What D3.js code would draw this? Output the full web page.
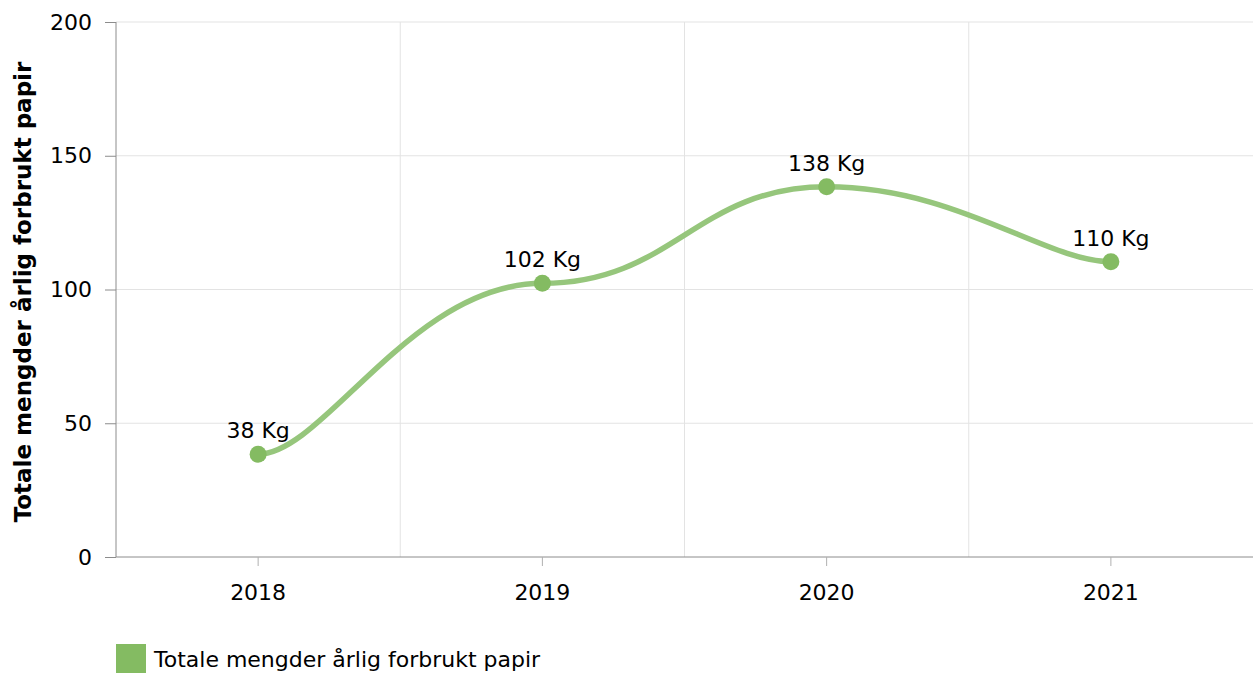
<!DOCTYPE html>
<html><head><meta charset="utf-8">
<script src="https://cdn.jsdelivr.net/npm/d3@7"></script>
<style>body{margin:0;background:#fff;font-family:"DejaVu Sans",Verdana,sans-serif;}</style>
</head><body><svg id="c" width="1255" height="673"></svg>
<script>
const categories = ["2018","2019","2020","2021"];
const values = [38.4, 102.3, 138.4, 110.4];
const valueLabels = ["38 Kg","102 Kg","138 Kg","110 Kg"];
const yTicks = [0,50,100,150,200];
const seriesName = "Totale mengder årlig forbrukt papir";
const yTitle = "Totale mengder årlig forbrukt papir";

const svg = d3.select("#c");
const m = {l:116, r:1253, t:22, b:557};
const x = d3.scaleBand().domain(categories).range([m.l, m.r]);
const y = d3.scaleLinear().domain([0,200]).range([m.b, m.t]);
const font = "DejaVu Sans, Verdana, sans-serif";
const FS = 22;

// horizontal grid
svg.append("g").selectAll("line").data(yTicks.filter(d=>d>0)).join("line")
  .attr("x1", m.l).attr("x2", m.r).attr("y1", d=>y(d)).attr("y2", d=>y(d))
  .attr("stroke", "#e3e3e3").attr("stroke-width", 1);
// vertical grid at band boundaries
svg.append("g").selectAll("line").data(categories.slice(1)).join("line")
  .attr("x1", d=>x(d)).attr("x2", d=>x(d)).attr("y1", m.t).attr("y2", m.b)
  .attr("stroke", "#e3e3e3").attr("stroke-width", 1);

// y axis
const ya = svg.append("g").attr("transform", `translate(${m.l},0)`)
  .call(d3.axisLeft(y).tickValues(yTicks).tickSize(11).tickPadding(13));
ya.select(".domain").attr("stroke", "#8c8c8c").attr("d", `M0,${m.t}V${m.b}`);
ya.selectAll(".tick line").attr("stroke", "#8c8c8c");
ya.selectAll("text").attr("font-size", FS).attr("font-family", font).attr("fill", "#000");

// x axis
const xa = svg.append("g").attr("transform", `translate(0,${m.b})`)
  .call(d3.axisBottom(x).tickSize(9).tickPadding(18));
xa.select(".domain").attr("stroke", "#8c8c8c").attr("d", `M${m.l},0H${m.r}`);
xa.selectAll(".tick line").attr("stroke", "#b0b0b0");
xa.selectAll("text").attr("font-size", FS).attr("font-family", font).attr("fill", "#000");

// y title
svg.append("text").attr("transform", `translate(31,292) rotate(-90)`)
  .attr("text-anchor","middle").attr("font-size",23).attr("font-weight","bold")
  .attr("font-family", font).text(yTitle);

const pts = categories.map((c,i)=>[x(c)+x.bandwidth()/2, y(values[i])]);
// tension-smoothed path (horizontal tangents, x tension)
const tx = 0.23, ty = 0.00001;
const p = d3.path();
p.moveTo(pts[0][0], pts[0][1]);
for (let i=0;i<pts.length-1;i++){
  const p0 = pts[Math.max(i-1,0)], p1 = pts[i], p2 = pts[i+1], p3 = pts[Math.min(i+2,pts.length-1)];
  p.bezierCurveTo(p1[0]+tx*(p2[0]-p0[0]), p1[1]+ty*(p2[1]-p0[1]),
                  p2[0]-tx*(p3[0]-p1[0]), p2[1]-ty*(p3[1]-p1[1]),
                  p2[0], p2[1]);
}
svg.append("path").attr("d", p.toString())
  .attr("fill","none").attr("stroke","#96c67c").attr("stroke-width",5.5).attr("stroke-linecap","round");
svg.append("g").selectAll("circle").data(pts).join("circle")
  .attr("cx", d=>d[0]).attr("cy", d=>d[1]).attr("r", 8.5).attr("fill","#84bb62");
svg.append("g").selectAll("text").data(pts).join("text")
  .attr("x", d=>d[0]).attr("y", d=>d[1]-16).attr("text-anchor","middle")
  .attr("font-size",FS).attr("font-family",font).attr("fill","#000")
  .text((d,i)=>valueLabels[i]);

// legend
svg.append("rect").attr("x",116).attr("y",644).attr("width",30).attr("height",29).attr("fill","#84bb62");
svg.append("text").attr("x",154).attr("y",667).attr("font-size",FS).attr("font-family",font).text(seriesName);
</script></body></html>
